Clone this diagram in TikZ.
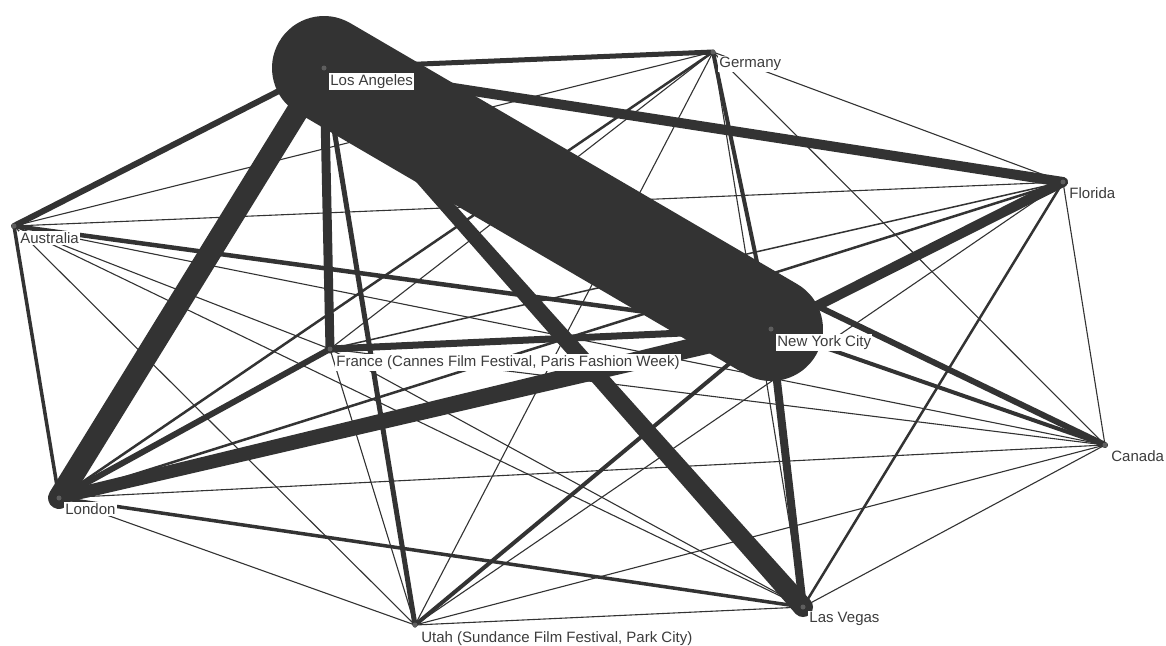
\documentclass[tikz,border=0pt]{standalone}
\usepackage{fontspec}
\setmainfont{Liberation Sans}
\usetikzlibrary{calc}
\definecolor{edgec}{HTML}{333333}
\definecolor{dotc}{HTML}{5E5E5E}
\definecolor{labc}{HTML}{3C3C3C}
\tikzset{
  edge/.style={draw=edgec, line cap=round},
  vdot/.style={circle, fill=dotc, inner sep=0pt, minimum size=5pt},
  lab/.style={anchor=north west, fill=white, inner sep=1.2pt, text=labc,
    font=\fontsize{15}{17}\selectfont}
}
% tapered edge: from, to, width at from, width at to
\newcommand{\taperedge}[4]{%
  \fill[edgec] let \p1=(#1), \p2=(#2), \n1={atan2(\y2-\y1,\x2-\x1)} in
    ($(\p1)+({\n1+90}:{#3*0.5pt})$) -- ($(\p2)+({\n1+90}:{#4*0.5pt})$)
    -- ($(\p2)+({\n1-90}:{#4*0.5pt})$) -- ($(\p1)+({\n1-90}:{#3*0.5pt})$) -- cycle;
  \fill[edgec] (#1) circle[radius=#3*0.5pt];
  \fill[edgec] (#2) circle[radius=#4*0.5pt];
}
\begin{document}
\begin{tikzpicture}[x=1pt,y=-1pt]
\useasboundingbox[fill=white] (0,0) rectangle (1166,645);
% vertex positions
\coordinate (LA) at (324,68);
\coordinate (DE) at (713,52);
\coordinate (FL) at (1063,182);
\coordinate (AU) at (14,226);
\coordinate (NY) at (771,329);
\coordinate (FR) at (330,349);
\coordinate (CA) at (1105,445);
\coordinate (LO) at (59,498);
\coordinate (LV) at (803,607);
\coordinate (UT) at (415,625);
% thin edges
\foreach \a/\b in {FL/DE,FL/AU,FL/UT,FL/CA,DE/AU,DE/FR,DE/CA,DE/LV,DE/UT,
  AU/CA,AU/FR,AU/LV,AU/UT,FR/CA,FR/LV,FR/UT,CA/UT,CA/LV,UT/LV,LO/CA,LO/UT}
  \draw[edge, line width=1.1pt] (\a) -- (\b);
% weighted edges
\foreach \a/\b/\w in {FL/FR/1.5,LO/DE/2.5,LO/FL/2.5,FL/LV/2.5,LO/AU/3.5,LO/LV/3.5,
  NY/AU/4.5,NY/DE/4,NY/CA/4,NY/UT/4,LA/DE/5,LA/UT/5,LA/AU/6,LA/CA/6,LO/FR/6,
  NY/FR/7,NY/LV/8,LA/FR/9,LA/FL/10,NY/FL/10}
  \draw[edge, line width=\w pt] (\a) -- (\b);
\taperedge{LO}{NY}{12}{20}
\taperedge{LA}{LV}{12}{20}
\draw[edge, line width=22pt] (LA) -- (LO);
\draw[edge, line width=104pt] (LA) -- (NY);
% vertices
\foreach \v in {LA,DE,FL,AU,NY,FR,CA,LO,LV,UT}
  \node[vdot] (\v d) at (\v) {};
% labels
\node[lab] (LAl) at ([shift={(5,5)}]LAd.center) {Los Angeles};
\node[lab] (DEl) at ([shift={(5,4)}]DEd.center) {Germany};
\node[lab] (FLl) at ([shift={(5,4)}]FLd.center) {Florida};
\node[lab] (AUl) at ([shift={(5,5)}]AUd.center) {Australia};
\node[lab] (NYl) at ([shift={(5,5)}]NYd.center) {New York City};
\node[lab] (FRl) at ([shift={(5,5)}]FRd.center) {France (Cannes Film Festival, Paris Fashion Week)};
\node[lab] (CAl) at ([shift={(5,4)}]CAd.center) {Canada};
\node[lab] (LOl) at ([shift={(5,4)}]LOd.center) {London};
\node[lab] (LVl) at ([shift={(5,4)}]LVd.center) {Las Vegas};
\node[lab] (UTl) at ([shift={(5,5)}]UTd.center) {Utah (Sundance Film Festival, Park City)};
\end{tikzpicture}
\end{document}
